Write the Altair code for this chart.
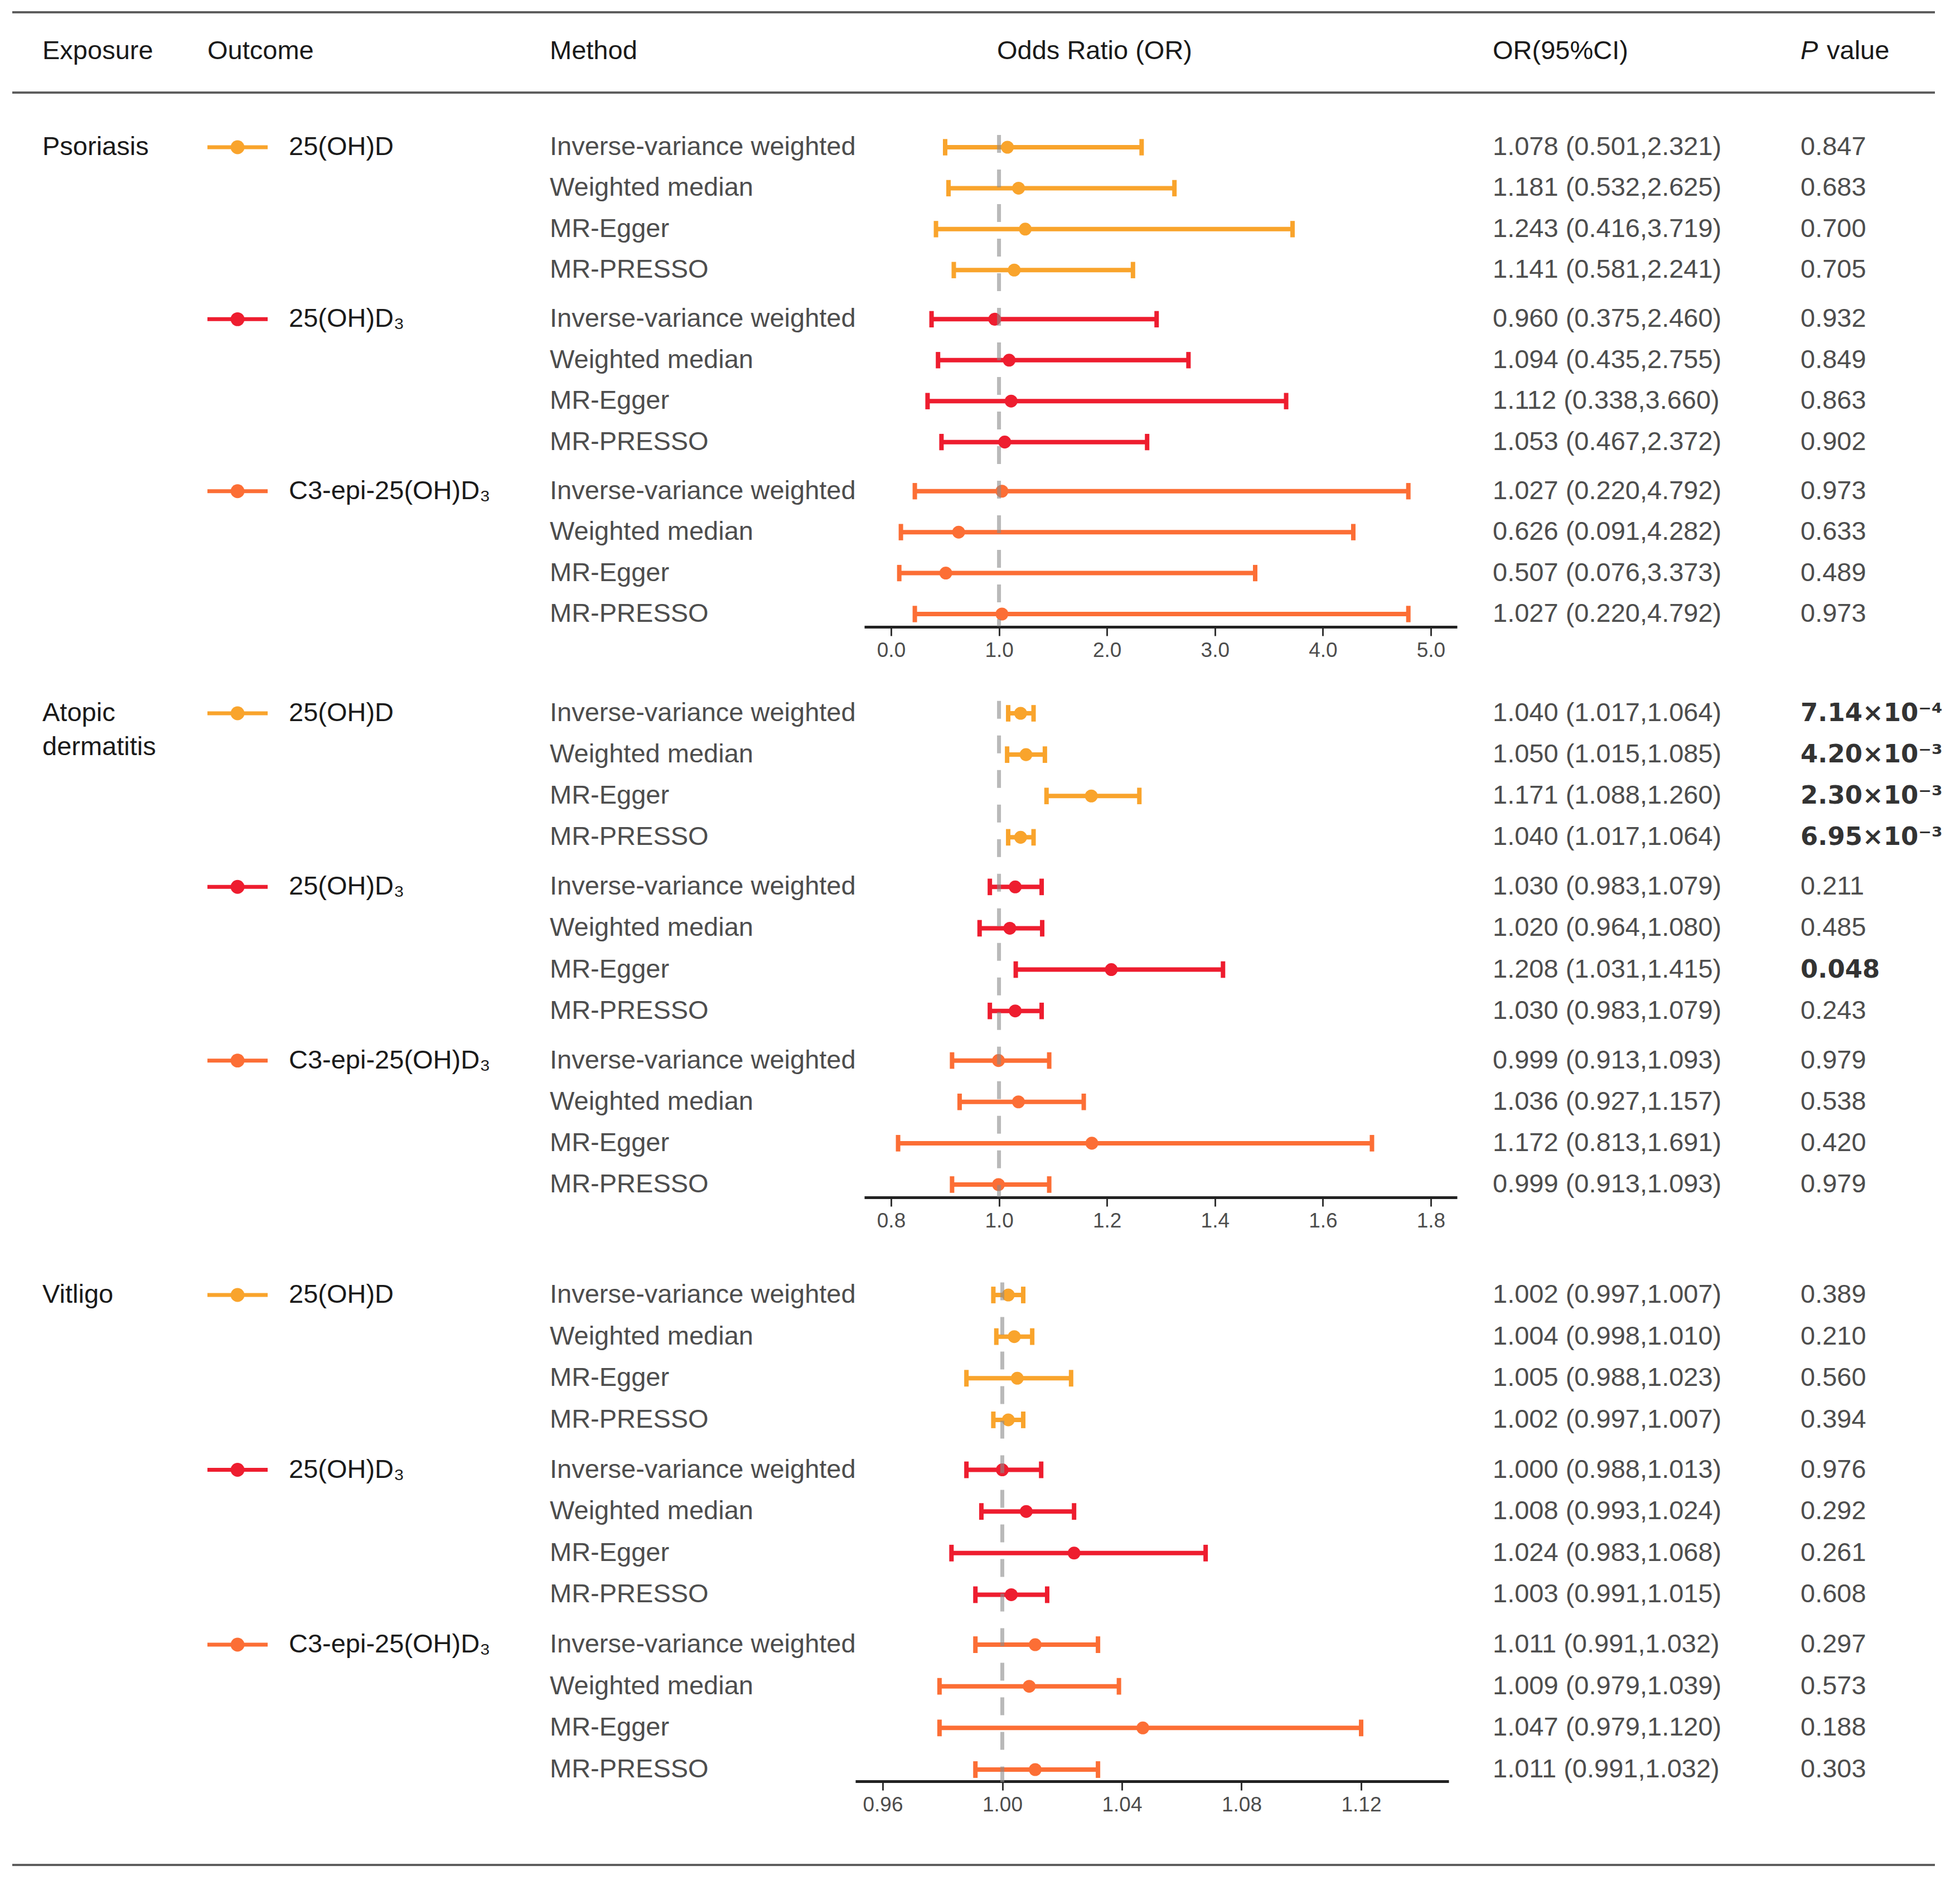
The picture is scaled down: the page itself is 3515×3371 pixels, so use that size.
import altair as alt
import pandas as pd

# ---------------- data ----------------
exposures = ["Psoriasis", "Atopic dermatitis", "Vitligo"]
outcomes = ["25(OH)D", "25(OH)D\u2083", "C3-epi-25(OH)D\u2083"]
methods = ["Inverse-variance weighted", "Weighted median", "MR-Egger", "MR-PRESSO"]
colors = ["#F9A42C", "#EE1D2F", "#FC6E35"]

# order: outcome 1 (4 methods), outcome 2 (4 methods), outcome 3 (4 methods)
ps_or = [1.078, 1.181, 1.243, 1.141, 0.960, 1.094, 1.112, 1.053, 1.027, 0.626, 0.507, 1.027]
ps_lo = [0.501, 0.532, 0.416, 0.581, 0.375, 0.435, 0.338, 0.467, 0.220, 0.091, 0.076, 0.220]
ps_hi = [2.321, 2.625, 3.719, 2.241, 2.460, 2.755, 3.660, 2.372, 4.792, 4.282, 3.373, 4.792]
ps_p = [0.847, 0.683, 0.700, 0.705, 0.932, 0.849, 0.863, 0.902, 0.973, 0.633, 0.489, 0.973]

ad_or = [1.040, 1.050, 1.171, 1.040, 1.030, 1.020, 1.208, 1.030, 0.999, 1.036, 1.172, 0.999]
ad_lo = [1.017, 1.015, 1.088, 1.017, 0.983, 0.964, 1.031, 0.983, 0.913, 0.927, 0.813, 0.913]
ad_hi = [1.064, 1.085, 1.260, 1.064, 1.079, 1.080, 1.415, 1.079, 1.093, 1.157, 1.691, 1.093]
ad_p = [7.14e-4, 4.20e-3, 2.30e-3, 6.95e-3, 0.211, 0.485, 0.048, 0.243, 0.979, 0.538, 0.420, 0.979]

vi_or = [1.002, 1.004, 1.005, 1.002, 1.000, 1.008, 1.024, 1.003, 1.011, 1.009, 1.047, 1.011]
vi_lo = [0.997, 0.998, 0.988, 0.997, 0.988, 0.993, 0.983, 0.991, 0.991, 0.979, 0.979, 0.991]
vi_hi = [1.007, 1.010, 1.023, 1.007, 1.013, 1.024, 1.068, 1.015, 1.032, 1.039, 1.120, 1.032]
vi_p = [0.389, 0.210, 0.560, 0.394, 0.976, 0.292, 0.261, 0.608, 0.297, 0.573, 0.188, 0.303]

ticks_ps = [0.0, 1.0, 2.0, 3.0, 4.0, 5.0]
ticks_ad = [0.8, 1.0, 1.2, 1.4, 1.6, 1.8]
ticks_vi = [0.96, 1.00, 1.04, 1.08, 1.12]

headers = ["Exposure", "Outcome", "Method", "Odds Ratio (OR)", "OR(95%CI)", "P", "value"]

# ---------------- table ----------------
SUP = str.maketrans("0123456789-", "\u2070\u00b9\u00b2\u00b3\u2074\u2075\u2076\u2077\u2078\u2079\u207b")


def p_label(p):
    if p < 0.01:
        s = f"{p:.2e}"
        mant, ex = s.split("e")
        return f"{mant}\u00d710" + str(int(ex)).translate(SUP)
    return f"{p:.3f}"


G = 4.2  # row units between outcome groups
ALL = [(ps_or, ps_lo, ps_hi, ps_p), (ad_or, ad_lo, ad_hi, ad_p), (vi_or, vi_lo, vi_hi, vi_p)]
recs = []
for e, (o_, l_, h_, p_) in enumerate(ALL):
    for k in range(12):
        o, m = divmod(k, 4)
        pos = o * G + m
        recs.append(dict(
            exp=e, o=o, m=m, pos=pos, ctop=pos - 0.2, cbot=pos + 0.2,
            outcome=outcomes[o], method=methods[m],
            orv=o_[k], lo=l_[k], hi=h_[k],
            ortext=f"{o_[k]:.3f} ({l_[k]:.3f},{h_[k]:.3f})",
            ptext=p_label(p_[k]), bold=bool(p_[k] < 0.05),
        ))
df = pd.DataFrame(recs)

F = "Liberation Sans, Arial, sans-serif"
W = 3490
YMAX = 2 * G + 3
col = alt.Color("outcome:N", scale=alt.Scale(domain=outcomes, range=colors), legend=None)


def txt(**kw):
    base = dict(align="left", baseline="middle", font=F, fontSize=47, color="#4d4d4d")
    base.update(kw)
    return base


def section(e, height, rrange, xdom, xrng, ticks, fmt, header=False):
    d = df[df.exp == e]
    ysc = alt.Scale(domain=[0, YMAX], range=rrange)
    xsc = alt.Scale(domain=xdom, range=xrng, nice=False, zero=False)
    ax = alt.Axis(values=ticks, format=fmt, title=None, grid=False,
                  domainColor="#222222", domainWidth=5, tickColor="#333333",
                  tickWidth=3, tickSize=16, labelFont=F, labelFontSize=37,
                  labelColor="#4d4d4d", labelPadding=8, labelFlush=False,
                  labelOverlap=False)

    def X(f):
        return alt.X(f, type="quantitative", scale=xsc, axis=ax)

    def Y(f):
        return alt.Y(f, type="quantitative", scale=ysc, axis=None)

    base = alt.Chart(d)
    layers = [
        base.mark_rule(strokeWidth=8).encode(x=X("lo"), x2="hi:Q", y=Y("pos"), color=col),
        base.mark_rule(strokeWidth=8).encode(x=X("lo"), y=Y("ctop"), y2="cbot:Q", color=col),
        base.mark_rule(strokeWidth=8).encode(x=X("hi"), y=Y("ctop"), y2="cbot:Q", color=col),
        base.mark_circle(size=530, opacity=1).encode(x=X("orv"), y=Y("pos"), color=col),
        alt.Chart(pd.DataFrame({"v": [1.0], "a": [-0.3], "b": [YMAX + 0.3]}))
        .mark_rule(strokeDash=[32, 30], strokeWidth=7, color="#8a8a8a", opacity=0.6)
        .encode(x=X("v"), y=Y("a"), y2="b:Q"),
        # text columns
        base.mark_text(**txt()).encode(x=alt.value(978), y=Y("pos"), text="method:N"),
        base.mark_text(**txt()).encode(x=alt.value(2669), y=Y("pos"), text="ortext:N"),
        base.transform_filter("!datum.bold").mark_text(**txt())
        .encode(x=alt.value(3221), y=Y("pos"), text="ptext:N"),
        base.transform_filter("datum.bold").mark_text(
            **txt(font="DejaVu Sans", fontWeight="bold", fontSize=45, color="#333333"))
        .encode(x=alt.value(3221), y=Y("pos"), text="ptext:N"),
        # outcome legend glyphs + labels
        base.transform_filter("datum.m == 0").mark_rule(strokeWidth=7)
        .encode(x=alt.value(364), x2=alt.value(472), y=Y("pos"), color=col),
        base.transform_filter("datum.m == 0").mark_circle(size=620, opacity=1)
        .encode(x=alt.value(418), y=Y("pos"), color=col),
        base.transform_filter("datum.m == 0").mark_text(**txt(color="#1a1a1a"))
        .encode(x=alt.value(510), y=Y("pos"), text="outcome:N"),
    ]
    lines = exposures[e].split(" ")
    ex_df = pd.DataFrame({"t": lines, "p": [0.82 * i for i in range(len(lines))]})
    layers.append(alt.Chart(ex_df).mark_text(**txt(color="#1a1a1a"))
                  .encode(x=alt.value(68), y=Y("p"), text="t:N"))
    if header:
        hd = alt.Chart(pd.DataFrame({"a": [0]}))
        hx = [68, 364, 978, 1955, 2669, 3221, 3268]
        for i, h in enumerate(headers):
            kw = txt(color="#1a1a1a")
            if h == "Odds Ratio (OR)":
                kw["align"] = "center"
            if h == "P":
                kw["fontStyle"] = "italic"
            layers.append(hd.mark_text(text=h, **kw).encode(x=alt.value(hx[i]), y=alt.value(84)))
        for yy in (14, 158):
            layers.append(hd.mark_rule(color="#5e5e5e", strokeWidth=4)
                          .encode(x=alt.value(14), x2=alt.value(3462), y=alt.value(yy)))
    return alt.layer(*layers).properties(width=W, height=height)


s1 = section(0, 1116, [256, 1093], [-0.248, 5.243], [1542, 2605], ticks_ps, ".1f", header=True)
s2 = section(1, 1023, [155, 1000], [0.7504, 1.8486], [1542, 2605], ticks_ad, ".1f")
s3 = section(2, 1047, [175, 1026], [0.95086, 1.14928], [1526, 2590], ticks_vi, ".2f")
foot = (alt.Chart(pd.DataFrame({"a": [0]}))
        .mark_rule(color="#5e5e5e", strokeWidth=4)
        .encode(x=alt.value(14), x2=alt.value(3462), y=alt.value(150))
        .properties(width=W, height=166))

chart = (alt.vconcat(s1, s2, s3, foot, spacing=0, bounds="flush")
         .resolve_scale(x="independent", y="independent")
         .properties(padding=0, background="white")
         .configure_view(stroke=None))

chart.save("out.html", embed_options={"renderer": "svg", "actions": False})
